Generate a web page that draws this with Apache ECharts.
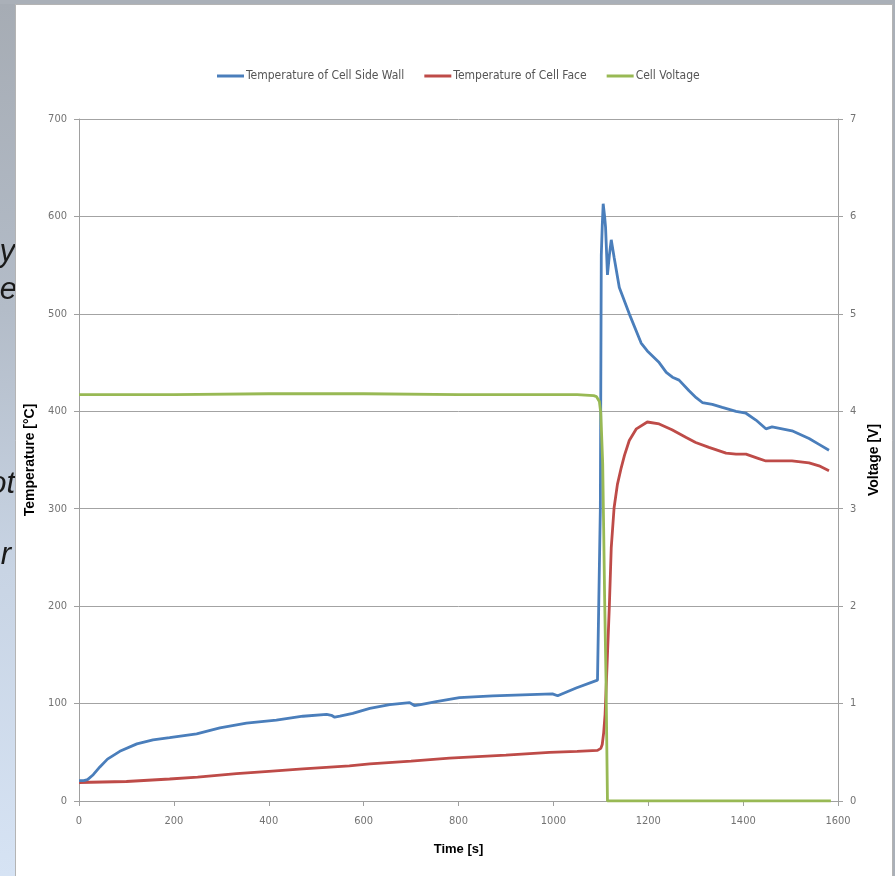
<!DOCTYPE html>
<html>
<head>
<meta charset="utf-8">
<script src="https://cdn.jsdelivr.net/npm/echarts@6/dist/echarts.min.js"></script>
<style>
html,body{margin:0;padding:0;background:#fff;}
#chart{width:895px;height:876px;}
</style>
</head>
<body>
<div id="chart"></div>
<script>
// ---- data ----
const seriesNames = ['Temperature of Cell Side Wall', 'Temperature of Cell Face', 'Cell Voltage'];
const xTicks = [0, 200, 400, 600, 800, 1000, 1200, 1400, 1600];
const tempTicks = [0, 100, 200, 300, 400, 500, 600, 700];
const voltTicks = [0, 1, 2, 3, 4, 5, 6, 7];

const sideWallTime = [0,10,18,30,44,60,86,122,156,191,248,297,353,416,472,522,532,539,550,577,613,655,697,707,720,753,802,872,935,998,1009,1048,1093,1097,1099,1101,1103,1105,1108,1110,1114,1118,1122,1128,1139,1160,1185,1198,1223,1238,1251,1265,1286,1301,1314,1335,1356,1385,1406,1427,1448,1461,1503,1539,1560,1581];
const sideWallTemp = [21,21,22,27,35,43,51,58.6,62.7,65,69,75,80,83,87,89,88,86,87,90,95,99,101,98,99,102,106,108,109,110,108,116,124,126,300,560,590,613,600,589,540,560,576,558,527,500,470,462,450,440,435,432,421,414,409,407,404,400,398,391,382,384,380,372,366,360];

const faceTime = [0,50,100,191,250,332,400,472,570,613,700,781,900,992,1050,1093,1100,1103,1106,1109,1112,1114,1118,1122,1128,1135,1143,1150,1160,1175,1198,1223,1250,1280,1300,1328,1364,1385,1406,1430,1448,1475,1503,1539,1560,1581];
const faceTemp = [19,19.5,20,22.6,24.5,28,30.5,33,36,38,41,44,47,50,51,52,54,58,70,89,125,150,200,260,301,325,342,355,370,382,389,387,381,373,368,363,357,356,356,352,349,349,349,347,344,339];

const voltTime = [0,200,400,600,800,1000,1050,1085,1091,1097,1100,1104,1106,1108,1111,1114,1300,1585];
const voltValue = [4.17,4.17,4.18,4.18,4.17,4.17,4.17,4.16,4.15,4.1,3.98,3.46,2.8,2.1,1.23,0,0,0];

const pairs = (xs, ys) => xs.map((x, i) => [x, ys[i]]);

const NARROW = "'Liberation Sans Narrow','DejaVu Sans Condensed','Arial Narrow',sans-serif";
const BOLD = "'Liberation Sans',Arial,sans-serif";
const colors = ['#4a7ebb', '#be4b48', '#98b954'];

const chart = echarts.init(document.getElementById('chart'), null, {renderer: 'canvas'});

const fragStyle = {fill: '#1a1a1a', font: 'italic 31px "Liberation Sans", Arial, sans-serif', textAlign: 'right', textVerticalAlign: 'middle'};

chart.setOption({
  animation: false,
  backgroundColor: '#aab0b8',
  color: colors,
  graphic: [
    {type: 'rect', z: -20, silent: true, shape: {x: 0, y: 4, width: 16, height: 872},
     style: {fill: new echarts.graphic.LinearGradient(0, 0, 0, 1, [
       {offset: 0, color: '#a6acb4'}, {offset: 0.35, color: '#b3bcc8'},
       {offset: 0.65, color: '#c8d4e4'}, {offset: 1, color: '#d6e3f4'}])}},
    {type: 'text', z: -19, silent: true, x: 15, y: 252, style: Object.assign({text: 'y'}, fragStyle)},
    {type: 'text', z: -19, silent: true, x: 17, y: 290, style: Object.assign({text: 'e'}, fragStyle)},
    {type: 'text', z: -19, silent: true, x: 15, y: 484, style: Object.assign({text: 'ot'}, fragStyle)},
    {type: 'text', z: -19, silent: true, x: 11, y: 555, style: Object.assign({text: 'r'}, fragStyle)},
    {type: 'rect', z: -18, silent: true, shape: {x: 15.5, y: 4.5, width: 877, height: 880},
     style: {fill: '#ffffff', stroke: '#b4b4b4', lineWidth: 1}}
  ],
  legend: {
    left: 212, top: 65,
    icon: 'rect', itemWidth: 27, itemHeight: 3, itemGap: 20,
    textStyle: {fontFamily: NARROW, fontSize: 12, color: '#555555', padding: [0, 0, 0, -3]},
    data: seriesNames
  },
  grid: {left: 79, right: 57, top: 119, bottom: 75, containLabel: false, outerBoundsMode: 'none'},
  xAxis: {
    type: 'value', min: 0, max: 1600, interval: 200,
    name: 'Time [s]', nameLocation: 'middle', nameGap: 42,
    nameTextStyle: {fontFamily: BOLD, fontWeight: 'bold', fontSize: 13, color: '#000'},
    axisLine: {show: true, lineStyle: {color: '#a0a0a0', width: 1}},
    axisTick: {show: true, length: 5, lineStyle: {color: '#a0a0a0'}},
    axisLabel: {margin: 15, fontFamily: NARROW, fontSize: 11, color: '#737373',
      formatter: v => xTicks.includes(v) ? String(v) : ''},
    splitLine: {show: false}
  },
  yAxis: [
    {
      type: 'value', min: 0, max: 700, interval: 100, position: 'left',
      name: 'Temperature [°C]', nameLocation: 'middle', nameGap: 36, nameRotate: 90,
      nameTextStyle: {fontFamily: BOLD, fontWeight: 'bold', fontSize: 14, color: '#000'},
      axisLine: {show: true, lineStyle: {color: '#a0a0a0', width: 1}},
      axisTick: {show: true, length: 5, lineStyle: {color: '#a0a0a0'}},
      axisLabel: {margin: 12, fontFamily: NARROW, fontSize: 11, color: '#737373',
        formatter: v => tempTicks.includes(v) ? String(v) : ''},
      splitLine: {show: true, lineStyle: {color: '#a3a3a3', width: 1}}
    },
    {
      type: 'value', min: 0, max: 7, interval: 1, position: 'right',
      name: 'Voltage [V]', nameLocation: 'middle', nameGap: 21, nameRotate: 90,
      nameTextStyle: {fontFamily: BOLD, fontWeight: 'bold', fontSize: 14, color: '#000'},
      axisLine: {show: true, lineStyle: {color: '#a0a0a0', width: 1}},
      axisTick: {show: true, length: 5, lineStyle: {color: '#a0a0a0'}},
      axisLabel: {margin: 12, fontFamily: NARROW, fontSize: 11, color: '#737373',
        formatter: v => voltTicks.includes(v) ? String(v) : ''},
      splitLine: {show: false}
    }
  ],
  series: [
    {name: seriesNames[0], type: 'line', yAxisIndex: 0, showSymbol: false, symbol: 'none',
     lineStyle: {width: 2.8, color: colors[0]}, data: pairs(sideWallTime, sideWallTemp), z: 3},
    {name: seriesNames[1], type: 'line', yAxisIndex: 0, showSymbol: false, symbol: 'none',
     lineStyle: {width: 2.8, color: colors[1]}, data: pairs(faceTime, faceTemp), z: 2},
    {name: seriesNames[2], type: 'line', yAxisIndex: 1, showSymbol: false, symbol: 'none',
     lineStyle: {width: 2.8, color: colors[2]}, data: pairs(voltTime, voltValue), z: 4}
  ]
});
</script>
</body>
</html>
